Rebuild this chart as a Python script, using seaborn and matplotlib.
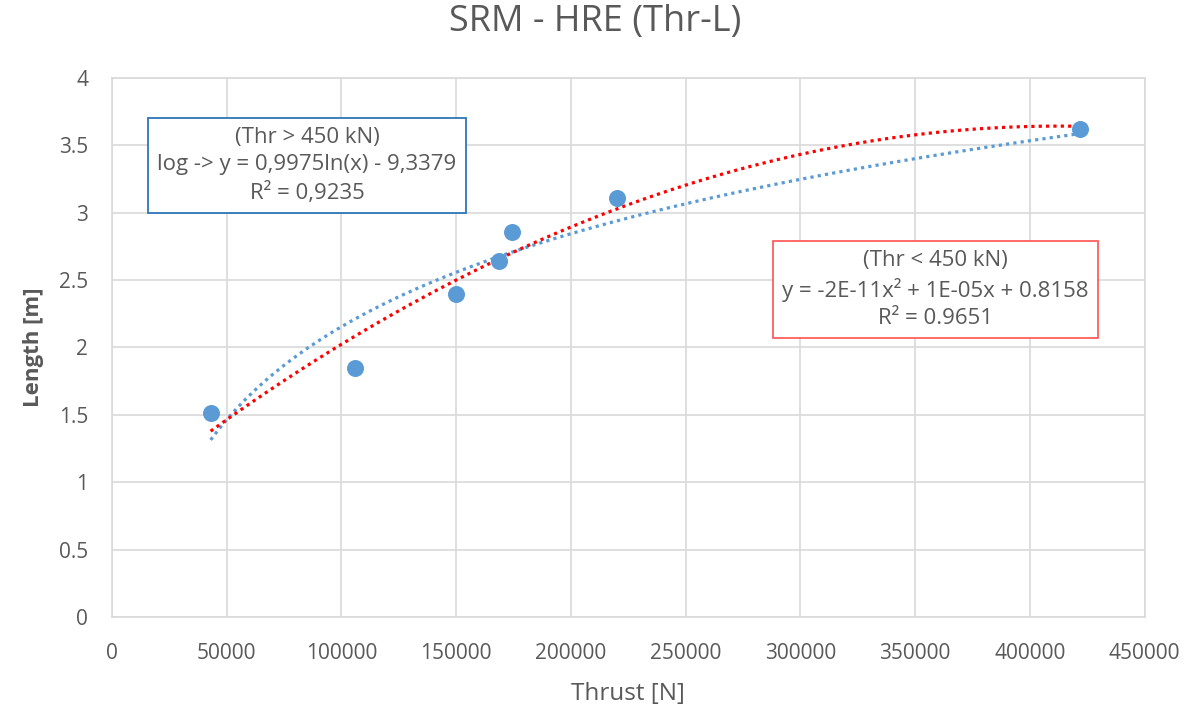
import numpy as np
import pandas as pd
import matplotlib
matplotlib.use("Agg")
import matplotlib.pyplot as plt
import seaborn as sns

# data
thrust = [43000, 106000, 150000, 168500, 174500, 220000, 422000]
length = [1.51, 1.85, 2.40, 2.64, 2.86, 3.11, 3.62]

log_label = "(Thr > 450 kN)\nlog -> y = 0,9975ln(x) - 9,3379\nR² = 0,9235"
poly_label = "(Thr < 450 kN)\ny = -2E-11x² + 1E-05x + 0.8158\nR² = 0.9651"

df = pd.DataFrame({"Thrust [N]": thrust, "Length [m]": length})

sns.set_style("white")
plt.rcParams["font.family"] = ["Open Sans", "DejaVu Sans"]
grey = "#595959"
blue = "#5B9BD5"

fig = plt.figure(figsize=(11.91, 7.08), dpi=100)
ax = fig.add_axes([0.094, 0.1285, 0.867, 0.7615])

# trendlines (log fit and 2nd order poly, like the excel ones)
sns.regplot(data=df, x="Thrust [N]", y="Length [m]", logx=True, ci=None,
            scatter=False, ax=ax,
            line_kws=dict(color=blue, lw=2.3, ls=(0, (1, 1.3)), dash_capstyle="butt"))
sns.regplot(data=df, x="Thrust [N]", y="Length [m]", order=2, ci=None,
            scatter=False, ax=ax,
            line_kws=dict(color="#FF0000", lw=2.3, ls=(0, (1, 1.3)), dash_capstyle="butt"))
sns.scatterplot(data=df, x="Thrust [N]", y="Length [m]", ax=ax, color=blue,
                s=150, edgecolor=blue, linewidth=0, zorder=5)

ax.set_xlim(0, 450000)
ax.set_ylim(0, 4)
ax.set_xticks(np.arange(0, 450001, 50000))
ax.set_yticks(np.arange(0, 4.01, 0.5))
ax.set_yticklabels(["0", "0.5", "1", "1.5", "2", "2.5", "3", "3.5", "4"])
ax.grid(True, color="#D9D9D9", lw=1.2)
ax.set_axisbelow(True)
for s in ax.spines.values():
    s.set_color("#D9D9D9")
    s.set_linewidth(1.2)
ax.tick_params(axis="both", length=0, labelsize=15, labelcolor=grey)
ax.tick_params(axis="x", pad=19)
ax.tick_params(axis="y", pad=17)

ax.set_xlabel("Thrust [N]", fontsize=17.5, color=grey, labelpad=13)
ax.set_ylabel("Length [m]", fontsize=16, color=grey, fontweight="bold", labelpad=11)
fig.suptitle("SRM - HRE (Thr-L)", fontsize=26, color=grey, y=0.994)

ax.text(85000, 3.35, log_label, ha="center", va="center", fontsize=16,
        color=grey, linespacing=1.38,
        bbox=dict(boxstyle="square,pad=0.42", fc="white", ec="#2E75B6", lw=1.3))
ax.text(359000, 2.43, poly_label, ha="center", va="center", fontsize=16,
        color=grey, linespacing=1.38,
        bbox=dict(boxstyle="square,pad=0.42", fc="white", ec="#FF5050", lw=1.2))

fig.savefig("out.png", dpi=100)
